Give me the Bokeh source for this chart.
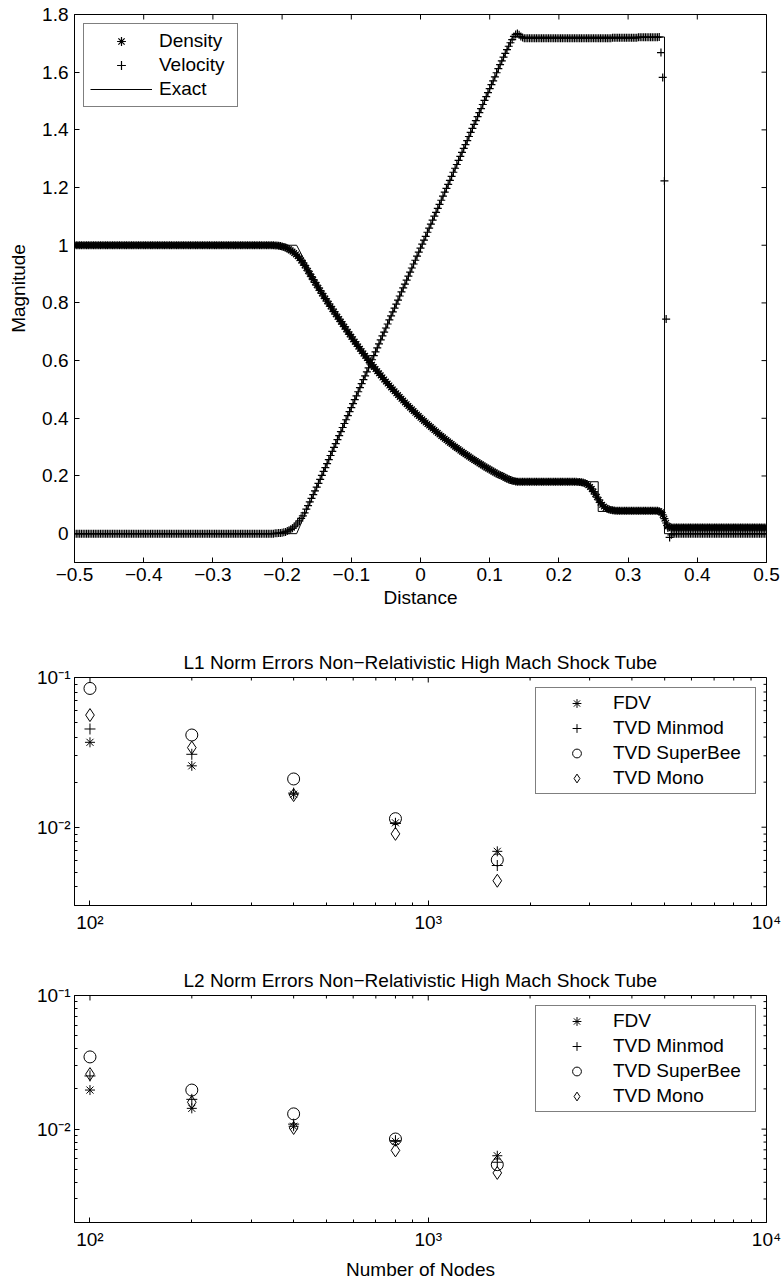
import math
import numpy as np
from bokeh.plotting import figure
from bokeh.layouts import column
from bokeh.models import FixedTicker, Legend, LegendItem, Range1d, BasicTickFormatter
from bokeh.embed import file_html
from bokeh.resources import INLINE

FONT = "Liberation Sans"
FS = "19px"

# ---------------- Top panel: shock tube profiles (401 nodes on [-0.5, 0.5]) ----------------
RHO_LEFT = [
    1, 1, 1, 1, 1, 1, 1, 1, 1, 1,
    1, 1, 1, 1, 1, 1, 1, 1, 1, 1,
    1, 1, 1, 1, 1, 1, 1, 1, 1, 1,
    1, 1, 1, 1, 1, 1, 1, 1, 1, 1,
    1, 1, 1, 1, 1, 1, 1, 1, 1, 1,
    1, 1, 1, 1, 1, 1, 1, 1, 1, 1,
    1, 1, 1, 1, 1, 1, 1, 1, 1, 1,
    1, 1, 1, 1, 1, 1, 1, 1, 1, 1,
    1, 1, 1, 1, 1, 1, 1, 1, 1, 1,
    1, 1, 1, 1, 1, 1, 1, 1, 1, 1,
    1, 1, 1, 1, 1, 1, 1, 1, 1, 1,
    1, 1, 1, 1, 1, 1,
]
RHO_HEAD = [
    0.999, 0.999, 0.998, 0.997, 0.996, 0.994, 0.992, 0.989, 0.986, 0.982,
    0.978, 0.973, 0.968, 0.962, 0.955, 0.947, 0.939, 0.930, 0.921, 0.911,
    0.901, 0.891, 0.881, 0.871, 0.862, 0.852, 0.843, 0.833, 0.824, 0.815,
    0.806, 0.797, 0.788, 0.779, 0.770, 0.761, 0.752, 0.744, 0.735,
]
RHO_FAN = [
    0.7265, 0.7175, 0.7087, 0.6998, 0.6912, 0.6825, 0.6740, 0.6655, 0.6572, 0.6489,
    0.6408, 0.6326, 0.6246, 0.6166, 0.6088, 0.6010, 0.5934, 0.5857, 0.5782, 0.5706,
    0.5633, 0.5560, 0.5488, 0.5415, 0.5345, 0.5274, 0.5205, 0.5136, 0.5069, 0.5001,
    0.4935, 0.4869, 0.4805, 0.4740, 0.4677, 0.4613, 0.4551, 0.4489, 0.4429, 0.4368,
    0.4309, 0.4249, 0.4191, 0.4133, 0.4076, 0.4019, 0.3964, 0.3908, 0.3854, 0.3800,
    0.3747, 0.3694, 0.3642, 0.3590, 0.3540, 0.3489, 0.3439, 0.3389, 0.3341, 0.3293,
    0.3246, 0.3198, 0.3152, 0.3105, 0.3060, 0.3015, 0.2971, 0.2927, 0.2884, 0.2841,
    0.2799, 0.2757, 0.2716, 0.2675, 0.2635, 0.2595, 0.2556, 0.2517, 0.2479, 0.2440,
    0.2403, 0.2366, 0.2330, 0.2294, 0.2259, 0.2223, 0.2189, 0.2154, 0.2120, 0.2086,
    0.2054,
]
RHO_TAIL = [
    0.2030, 0.2000, 0.1970, 0.1940, 0.1910, 0.1882, 0.1858, 0.1838, 0.1822, 0.1810,
    0.1802, 0.1798, 0.1796, 0.1797, 0.1799,
]
RHO_PLATEAU = [
    0.18, 0.18, 0.18, 0.18, 0.18, 0.18, 0.18, 0.18, 0.18, 0.18,
    0.18, 0.18, 0.18, 0.18, 0.18, 0.18, 0.18, 0.18, 0.18, 0.18,
    0.18, 0.18, 0.18, 0.18, 0.18, 0.18, 0.18, 0.18, 0.18, 0.18,
]
RHO_CONTACT = [
    0.1795, 0.179, 0.178, 0.177, 0.175, 0.172, 0.168, 0.162, 0.155, 0.146,
    0.137, 0.127, 0.117, 0.108, 0.100, 0.094, 0.089, 0.086, 0.084, 0.082,
    0.081, 0.080, 0.0795, 0.079,
]
RHO_POST = [
    0.079, 0.079, 0.079, 0.079, 0.079, 0.079, 0.079, 0.079, 0.079, 0.079,
    0.079, 0.079, 0.079, 0.079, 0.079, 0.079, 0.079, 0.079, 0.079, 0.079,
    0.079, 0.079, 0.079,
]
RHO_SHOCK = [0.078, 0.074, 0.065, 0.052, 0.037, 0.026, 0.022]
RHO_RIGHT = [
    0.021, 0.021, 0.021, 0.021, 0.021, 0.021, 0.021, 0.021, 0.021, 0.021,
    0.021, 0.021, 0.021, 0.021, 0.021, 0.021, 0.021, 0.021, 0.021, 0.021,
    0.021, 0.021, 0.021, 0.021, 0.021, 0.021, 0.021, 0.021, 0.021, 0.021,
    0.021, 0.021, 0.021, 0.021, 0.021, 0.021, 0.021, 0.021, 0.021, 0.021,
    0.021, 0.021, 0.021, 0.021, 0.021, 0.021, 0.021, 0.021, 0.021, 0.021,
    0.021, 0.021, 0.021, 0.021, 0.021, 0.021,
]

VEL_LEFT = [
    0, 0, 0, 0, 0, 0, 0, 0, 0, 0,
    0, 0, 0, 0, 0, 0, 0, 0, 0, 0,
    0, 0, 0, 0, 0, 0, 0, 0, 0, 0,
    0, 0, 0, 0, 0, 0, 0, 0, 0, 0,
    0, 0, 0, 0, 0, 0, 0, 0, 0, 0,
    0, 0, 0, 0, 0, 0, 0, 0, 0, 0,
    0, 0, 0, 0, 0, 0, 0, 0, 0, 0,
    0, 0, 0, 0, 0, 0, 0, 0, 0, 0,
    0, 0, 0, 0, 0, 0, 0, 0, 0, 0,
    0, 0, 0, 0, 0, 0, 0, 0, 0, 0,
    0, 0, 0, 0, 0, 0, 0, 0, 0, 0,
    0, 0, 0, 0, 0, 0,
]
VEL_HEAD = [
    0.001, 0.001, 0.002, 0.002, 0.003, 0.005, 0.006, 0.009, 0.012, 0.015,
    0.019, 0.024, 0.030, 0.037, 0.044, 0.053, 0.062, 0.072, 0.085, 0.097,
    0.110, 0.122, 0.135, 0.148, 0.161, 0.174, 0.188,
]
VEL_FAN = [
    0.202, 0.216, 0.229, 0.243, 0.257, 0.271, 0.285, 0.299, 0.312, 0.326,
    0.340, 0.354, 0.368, 0.382, 0.395, 0.409, 0.423, 0.437, 0.451, 0.465,
    0.478, 0.492, 0.506, 0.520, 0.534, 0.547, 0.561, 0.575, 0.589, 0.603,
    0.617, 0.630, 0.644, 0.658, 0.672, 0.686, 0.699, 0.713, 0.727, 0.741,
    0.755, 0.769, 0.782, 0.796, 0.810, 0.824, 0.838, 0.852, 0.865, 0.879,
    0.893, 0.907, 0.921, 0.935, 0.948, 0.962, 0.976, 0.990, 1.004, 1.018,
    1.031, 1.045, 1.059, 1.073, 1.087, 1.101, 1.114, 1.128, 1.142, 1.156,
    1.170, 1.184, 1.197, 1.211, 1.225, 1.239, 1.253, 1.267, 1.280, 1.294,
    1.308, 1.322, 1.336, 1.349, 1.363, 1.377, 1.391, 1.405, 1.419, 1.432,
    1.446, 1.460, 1.474, 1.488, 1.502, 1.515, 1.529, 1.543, 1.557, 1.570,
    1.584, 1.598,
]
VEL_TAIL = [
    1.612, 1.626, 1.639, 1.652, 1.665, 1.678, 1.690, 1.702, 1.713, 1.724,
    1.731, 1.734, 1.730, 1.724, 1.720, 1.718,
]
VEL_PLATEAU = [
    1.718, 1.718, 1.718, 1.718, 1.718, 1.718, 1.718, 1.718, 1.718, 1.718,
    1.718, 1.718, 1.718, 1.718, 1.718, 1.718, 1.718, 1.718, 1.718, 1.718,
    1.718, 1.718, 1.718, 1.718, 1.718, 1.718, 1.718, 1.718, 1.718, 1.718,
    1.718, 1.718, 1.718, 1.718, 1.718, 1.718, 1.718, 1.718, 1.718, 1.718,
    1.718, 1.718, 1.718, 1.718, 1.718, 1.718, 1.718, 1.718, 1.718, 1.718,
    1.719, 1.719, 1.719, 1.719, 1.719, 1.719, 1.719, 1.719, 1.719, 1.719,
    1.719, 1.719, 1.719, 1.719, 1.719, 1.721, 1.721, 1.721, 1.721, 1.721,
    1.721, 1.721, 1.721, 1.721, 1.721, 1.721, 1.721,
]
VEL_SHOCK = [1.722, 1.668, 1.582, 1.223, 0.744, 0.020, -0.013, -0.004]
VEL_RIGHT = [
    0, 0, 0, 0, 0, 0, 0, 0, 0, 0,
    0, 0, 0, 0, 0, 0, 0, 0, 0, 0,
    0, 0, 0, 0, 0, 0, 0, 0, 0, 0,
    0, 0, 0, 0, 0, 0, 0, 0, 0, 0,
    0, 0, 0, 0, 0, 0, 0, 0, 0, 0,
    0, 0, 0, 0, 0,
]

DENSITY = (RHO_LEFT + RHO_HEAD + RHO_FAN + RHO_TAIL + RHO_PLATEAU
           + RHO_CONTACT + RHO_POST + RHO_SHOCK + RHO_RIGHT)
VELOCITY = (VEL_LEFT + VEL_HEAD + VEL_FAN + VEL_TAIL + VEL_PLATEAU
            + VEL_SHOCK + VEL_RIGHT)
assert len(DENSITY) == 401, len(DENSITY)
assert len(VELOCITY) == 401, len(VELOCITY)
DIST_X = np.linspace(-0.5, 0.5, 401)

EXACT_RHO_X = [-0.5, -0.179, -0.17, -0.16, -0.15, -0.14, -0.13, -0.12, -0.11, -0.10,
               -0.09, -0.08, -0.07, -0.06, -0.05, -0.04, -0.03, -0.02, -0.01, 0.0,
               0.01, 0.02, 0.03, 0.04, 0.05, 0.06, 0.07, 0.08, 0.09, 0.10,
               0.11, 0.12, 0.13, 0.133, 0.2568, 0.2568, 0.3526, 0.3526, 0.5]
EXACT_RHO = [1.0, 1.0, 0.9588, 0.9146, 0.8721, 0.8312, 0.7918, 0.7539, 0.7175, 0.6825,
             0.6489, 0.6166, 0.5857, 0.5560, 0.5274, 0.5001, 0.4740, 0.4489, 0.4249, 0.4019,
             0.3800, 0.3590, 0.3389, 0.3198, 0.3015, 0.2841, 0.2675, 0.2517, 0.2366, 0.2223,
             0.2086, 0.1957, 0.1834, 0.180, 0.180, 0.077, 0.077, 0.021, 0.021]
EXACT_U_X = [-0.5, -0.179, 0.133, 0.3526, 0.3526, 0.5]
EXACT_U = [0.0, 0.0, 1.722, 1.722, 0.0, 0.0]

DIST_RANGE = (-0.5, 0.5)
MAG_RANGE = (-0.1, 1.8)
DIST_TICKS = [-0.5, -0.4, -0.3, -0.2, -0.1, 0, 0.1, 0.2, 0.3, 0.4, 0.5]
DIST_LABELS = ["\u22120.5", "\u22120.4", "\u22120.3", "\u22120.2", "\u22120.1", "0",
               "0.1", "0.2", "0.3", "0.4", "0.5"]
MAG_TICKS = [0, 0.2, 0.4, 0.6, 0.8, 1, 1.2, 1.4, 1.6, 1.8]
MAG_LABELS = ["0", "0.2", "0.4", "0.6", "0.8", "1", "1.2", "1.4", "1.6", "1.8"]

# ---------------- Error panels ----------------
NODES = [100, 200, 400, 800, 1600]
L1_FDV = [0.0369, 0.0257, 0.0166, 0.0107, 0.0069]
L1_MINMOD = [0.0453, 0.0307, 0.0169, 0.0106, 0.00555]
L1_SUPERBEE = [0.0845, 0.0413, 0.0210, 0.0114, 0.00605]
L1_MONO = [0.0561, 0.0340, 0.0164, 0.00903, 0.00439]

L2_FDV = [0.0196, 0.0143, 0.0105, 0.0081, 0.00632]
L2_MINMOD = [0.0250, 0.0167, 0.0109, 0.0082, 0.00565]
L2_SUPERBEE = [0.0347, 0.0196, 0.0130, 0.00843, 0.00542]
L2_MONO = [0.0258, 0.0159, 0.0102, 0.00693, 0.0047]

SERIES_NAMES = ["FDV", "TVD Minmod", "TVD SuperBee", "TVD Mono"]
NODE_RANGE = (90, 10000)
NODE_TICKS = [100, 1000, 10000]
NODE_LABELS = ["10\u00b2", "10\u00b3", "10\u2074"]
NODE_MINOR = [200, 300, 400, 500, 600, 700, 800, 900,
              2000, 3000, 4000, 5000, 6000, 7000, 8000, 9000]
ERR_TICKS = [0.01, 0.1]
ERR_LABELS = ["10\u207b\u00b2", "10\u207b\u00b9"]
ERR_MINOR_L1 = [0.004, 0.005, 0.006, 0.007, 0.008, 0.009,
                0.02, 0.03, 0.04, 0.05, 0.06, 0.07, 0.08, 0.09]
ERR_MINOR_L2 = [0.003, 0.004, 0.005, 0.006, 0.007, 0.008, 0.009,
                0.02, 0.03, 0.04, 0.05, 0.06, 0.07, 0.08, 0.09]

MAJOR_LEN = 5
MINOR_LEN = 3


def style_axis(ax, standoff=6):
    ax.axis_line_color = "black"
    ax.axis_line_width = 1
    ax.major_tick_line_color = "black"
    ax.minor_tick_line_color = "black"
    ax.major_tick_in = MAJOR_LEN
    ax.major_tick_out = 0
    ax.minor_tick_in = MINOR_LEN
    ax.minor_tick_out = 0
    ax.major_label_text_font = FONT
    ax.major_label_text_color = "black"
    ax.major_label_text_font_size = FS
    ax.major_label_standoff = standoff
    ax.axis_label_text_font = FONT
    ax.axis_label_text_font_size = FS
    ax.axis_label_text_font_style = "normal"
    ax.axis_label_text_color = "black"


def base_style(p):
    p.xgrid.visible = False
    p.ygrid.visible = False
    p.outline_line_color = "black"
    p.outline_line_alpha = 1
    p.outline_line_width = 1
    p.background_fill_color = "white"
    p.border_fill_color = "white"


def mirror_ticks_linear(p, xticks, yticks, xr, yr, fw, fh):
    # inward tick marks on the top and right frame edges (box on)
    dy = MAJOR_LEN * (yr[1] - yr[0]) / fh
    dx = MAJOR_LEN * (xr[1] - xr[0]) / fw
    n, m = len(xticks), len(yticks)
    p.segment(x0=xticks, y0=[yr[1]] * n, x1=xticks, y1=[yr[1] - dy] * n,
              line_color="black", line_width=1)
    p.segment(x0=[xr[1]] * m, y0=yticks, x1=[xr[1] - dx] * m, y1=yticks,
              line_color="black", line_width=1)


def mirror_ticks_log(p, xmaj, xmin, ymaj, ymin, xr, yr, fw, fh):
    dec_x = math.log10(xr[1] / xr[0]) / fw
    dec_y = math.log10(yr[1] / yr[0]) / fh
    for ticks, ln in ((xmaj, MAJOR_LEN), (xmin, MINOR_LEN)):
        n = len(ticks)
        p.segment(x0=ticks, y0=[yr[1]] * n, x1=ticks,
                  y1=[yr[1] * 10 ** (-ln * dec_y)] * n, line_color="black", line_width=1)
    for ticks, ln in ((ymaj, MAJOR_LEN), (ymin, MINOR_LEN)):
        n = len(ticks)
        p.segment(x0=[xr[1]] * n, y0=ticks, x1=[xr[1] * 10 ** (-ln * dec_x)] * n,
                  y1=ticks, line_color="black", line_width=1)


# ---- top figure
T_LEFT, T_RIGHT, T_TOP, T_BOTTOM, T_W, T_H = 73, 15, 14, 58, 783, 620
p1 = figure(width=T_W, height=T_H, output_backend="svg", toolbar_location=None,
            x_range=Range1d(*DIST_RANGE), y_range=Range1d(*MAG_RANGE),
            min_border_left=T_LEFT, min_border_right=T_RIGHT,
            min_border_top=T_TOP, min_border_bottom=T_BOTTOM)
base_style(p1)
xb = p1.below[0]
yl = p1.left[0]
xb.ticker = FixedTicker(ticks=DIST_TICKS, minor_ticks=[])
xb.major_label_overrides = dict(zip(DIST_TICKS, DIST_LABELS))
yl.ticker = FixedTicker(ticks=MAG_TICKS, minor_ticks=[])
yl.major_label_overrides = dict(zip(MAG_TICKS, MAG_LABELS))
style_axis(xb, 5)
style_axis(yl, 6)
xb.axis_label = "Distance"
xb.axis_label_standoff = 3
yl.axis_label = "Magnitude"
yl.axis_label_standoff = 10

r_rho = p1.scatter(DIST_X, DENSITY, marker="asterisk", size=8, line_color="black",
                   line_width=1.2, fill_color=None)
r_u = p1.scatter(DIST_X, VELOCITY, marker="cross", size=8, line_color="black",
                 line_width=1.2, fill_color=None)
r_ex1 = p1.line(EXACT_RHO_X, EXACT_RHO, line_color="black", line_width=1)
r_ex2 = p1.line(EXACT_U_X, EXACT_U, line_color="black", line_width=1)
mirror_ticks_linear(p1, DIST_TICKS, MAG_TICKS, DIST_RANGE, MAG_RANGE,
                    T_W - T_LEFT - T_RIGHT, T_H - T_TOP - T_BOTTOM)

leg1 = Legend(items=[LegendItem(label="Density", renderers=[r_rho]),
                     LegendItem(label="Velocity", renderers=[r_u]),
                     LegendItem(label="Exact", renderers=[r_ex1])],
              location="top_left", margin=9, padding=6, spacing=2,
              glyph_width=62, glyph_height=22, label_height=22, label_width=72,
              label_standoff=7, label_text_font=FONT, label_text_font_size=FS,
              label_text_color="black", border_line_color="black", border_line_width=1,
              background_fill_color="white", background_fill_alpha=1)
p1.add_layout(leg1)


def error_panel(title, y_range, y_minor, values, height, top, bottom, xlabel=None):
    left, right = 74, 17
    p = figure(width=783, height=height, output_backend="svg", toolbar_location=None,
               x_axis_type="log", y_axis_type="log",
               x_range=Range1d(*NODE_RANGE), y_range=Range1d(*y_range),
               min_border_left=left, min_border_right=right, min_border_top=top,
               min_border_bottom=bottom)
    base_style(p)
    p.title.text = title
    p.title.text_font = FONT
    p.title.text_font_size = FS
    p.title.text_font_style = "normal"
    p.title.text_color = "black"
    p.title.align = "center"
    p.title.standoff = 10
    xa = p.below[0]
    ya = p.left[0]
    xa.ticker = FixedTicker(ticks=NODE_TICKS, minor_ticks=NODE_MINOR)
    xa.formatter = BasicTickFormatter()
    xa.major_label_overrides = dict(zip(NODE_TICKS, NODE_LABELS))
    ya.ticker = FixedTicker(ticks=ERR_TICKS, minor_ticks=y_minor)
    ya.formatter = BasicTickFormatter()
    ya.major_label_overrides = dict(zip(ERR_TICKS, ERR_LABELS))
    style_axis(xa, 6)
    style_axis(ya, 4)
    if xlabel:
        xa.axis_label = xlabel
        xa.axis_label_standoff = 6

    fdv, mm, sb, mono = values
    r1 = p.scatter(NODES, fdv, marker="asterisk", size=10, line_color="black",
                   line_width=1, fill_color=None)
    r2 = p.scatter(NODES, mm, marker="cross", size=11, line_color="black",
                   line_width=1, fill_color=None)
    r3 = p.scatter(NODES, sb, marker="circle", size=12, line_color="black",
                   line_width=1, fill_color=None)
    r4 = p.scatter(NODES, mono, marker="diamond", size=13, line_color="black",
                   line_width=1, fill_color=None)
    mirror_ticks_log(p, NODE_TICKS, NODE_MINOR, ERR_TICKS, y_minor, NODE_RANGE, y_range,
                     783 - left - right, height - top - bottom)
    leg = Legend(items=[LegendItem(label=n, renderers=[r]) for n, r in
                        zip(SERIES_NAMES, [r1, r2, r3, r4])],
                 location="top_right", margin=10, padding=4, spacing=3,
                 glyph_width=73, glyph_height=22, label_height=22, label_width=138,
                 label_standoff=0, label_text_font=FONT, label_text_font_size=FS,
                 label_text_color="black", border_line_color="black",
                 border_line_width=1, background_fill_color="white",
                 background_fill_alpha=1)
    p.add_layout(leg)
    return p


p2 = error_panel("L1 Norm Errors Non\u2212Relativistic High Mach Shock Tube", (0.003, 0.1),
                 ERR_MINOR_L1, [L1_FDV, L1_MINMOD, L1_SUPERBEE, L1_MONO], 320, 57, 35)
p3 = error_panel("L2 Norm Errors Non\u2212Relativistic High Mach Shock Tube", (0.002, 0.1),
                 ERR_MINOR_L2, [L2_FDV, L2_MINMOD, L2_SUPERBEE, L2_MONO], 342, 55, 59,
                 xlabel="Number of Nodes")

layout = column(p1, p2, p3, spacing=0)
open("out.html", "w").write(file_html(layout, INLINE))
